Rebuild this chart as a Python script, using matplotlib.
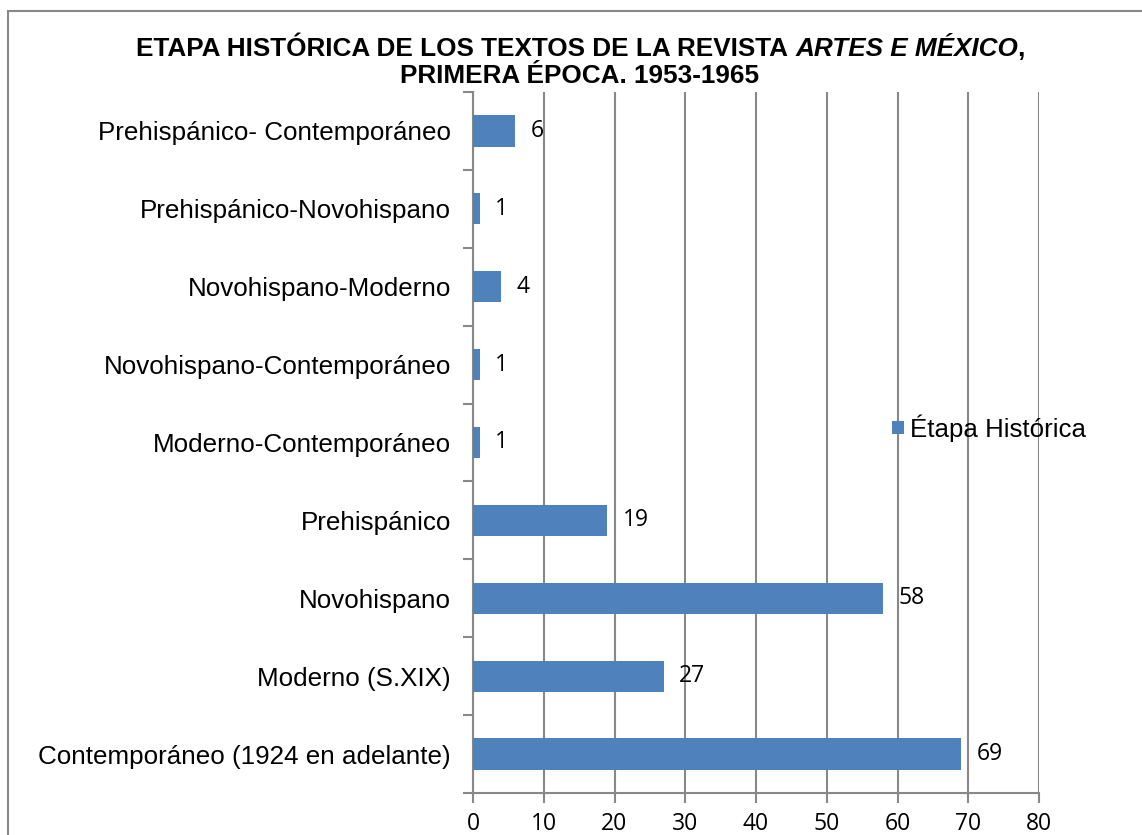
import matplotlib
matplotlib.use("Agg")
import matplotlib.pyplot as plt
from matplotlib.patches import Rectangle
import numpy as np

categories = [
    "Prehispánico- Contemporáneo",
    "Prehispánico-Novohispano",
    "Novohispano-Moderno",
    "Novohispano-Contemporáneo",
    "Moderno-Contemporáneo",
    "Prehispánico",
    "Novohispano",
    "Moderno (S.XIX)",
    "Contemporáneo (1924 en adelante)",
]
values = [6, 1, 4, 1, 1, 19, 58, 27, 69]
series_name = "Étapa Histórica"
x_ticks = [0, 10, 20, 30, 40, 50, 60, 70, 80]

W, H = 1142, 835
fig = plt.figure(figsize=(W / 100, H / 100), dpi=100)
fig.patch.set_facecolor("white")

# outer chart border (top & left visible)
fig.patches.append(Rectangle((8 / W, -0.05), 1.2, 1 - 11 / H + 0.05,
                             transform=fig.transFigure, fill=False,
                             edgecolor="#888888", lw=1.5))

ax = fig.add_axes([473 / W, 1 - 793 / H, (1039 - 473) / W, (793 - 92) / H])
n = len(categories)
ypos = np.arange(n)[::-1]
bar_color = "#4F81BD"
ax.barh(ypos, values, height=0.4, color=bar_color, zorder=3, label=series_name)

num_font = dict(fontfamily="Open Sans", fontsize=16.5)
ax.set_xlim(0, 80)
ax.set_ylim(-0.5, n - 0.5)
ax.set_xticks(x_ticks)
ax.set_xticklabels([str(t) for t in x_ticks], **num_font)
ax.set_yticks(ypos)
ax.set_yticklabels(categories, fontfamily="Liberation Sans", fontsize=18.7)
ax.tick_params(axis="y", which="major", length=0, pad=16)
ax.set_yticks(np.arange(-0.5, n, 1), minor=True)
ax.tick_params(axis="y", which="minor", length=7, width=1.5, color="#888888", direction="out")
ax.tick_params(axis="x", length=7, width=1.5, color="#888888", direction="out", pad=6.5)

ax.grid(axis="x", color="#888888", lw=1.5, zorder=0)
for s in ["top", "right"]:
    ax.spines[s].set_visible(False)
for s in ["left", "bottom"]:
    ax.spines[s].set_color("#888888")
    ax.spines[s].set_linewidth(1.5)
ax.spines["bottom"].set_bounds(-0.1, 80)

for y, v in zip(ypos, values):
    ax.annotate(str(v), xy=(v, y), xytext=(11, 0), textcoords="offset points",
                va="center", ha="left", zorder=4, **num_font)

# legend
leg = fig.legend(loc="center left", bbox_to_anchor=(892 / W, 1 - 428 / H),
                 frameon=False, prop={"family": "Liberation Sans", "size": 18.6},
                 handlelength=0.45, handleheight=0.45, handletextpad=0.25,
                 borderpad=0, borderaxespad=0)

# title with italic part
renderer = fig.canvas.get_renderer()
tkw = dict(fontfamily="Liberation Sans", fontsize=18.8, fontweight="bold")
pieces = [("ETAPA HISTÓRICA DE LOS TEXTOS DE LA REVISTA ", "normal"),
          ("ARTES E MÉXICO", "italic"),
          (",", "normal")]
texts = []
for s, st in pieces:
    t = fig.text(0, 0, s, style=st, va="baseline", ha="left", **tkw)
    texts.append(t)
widths = [t.get_window_extent(renderer).width for t in texts]
widths[1] -= 1.5  # small italic overhang correction
total = sum(widths)
cx = 580
x0 = cx - total / 2
y1 = H - 56
for t, w in zip(texts, widths):
    t.set_position((x0 / W, y1 / H))
    x0 += w + 0.5
fig.text(580 / W, (H - 83) / H, "PRIMERA ÉPOCA. 1953-1965", ha="center", va="baseline", **tkw)

fig.savefig("out.png", dpi=100)
